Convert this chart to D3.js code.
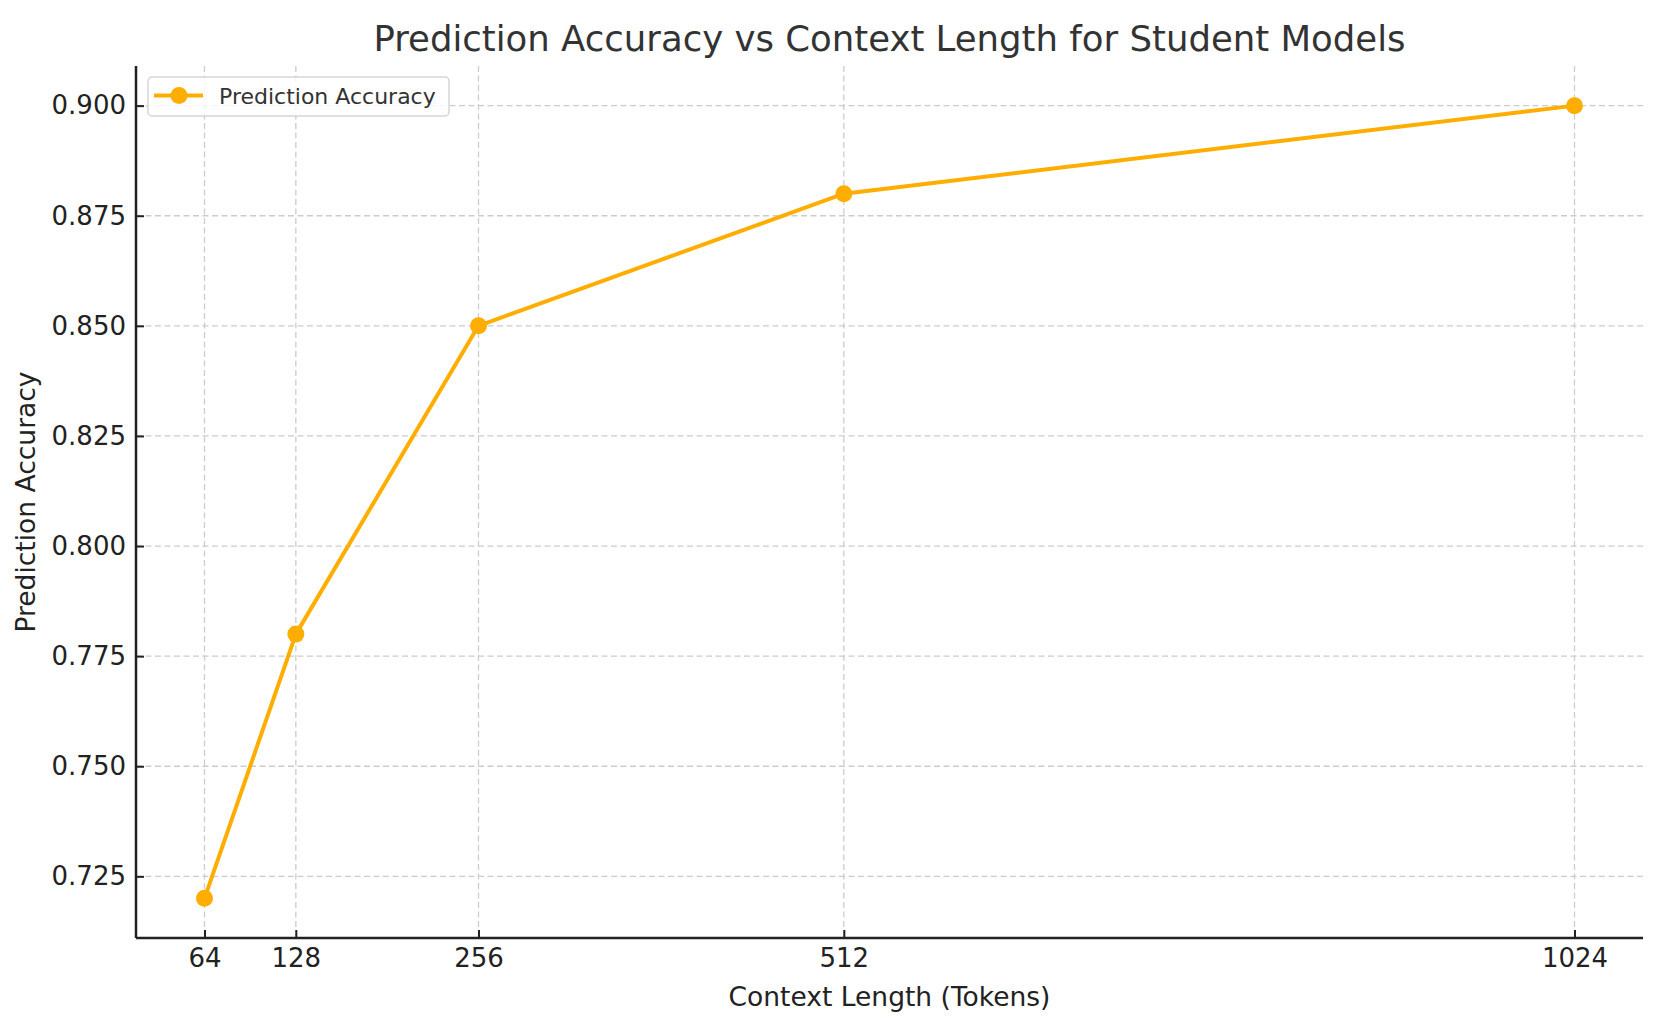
<!DOCTYPE html>
<html>
<head>
<meta charset="utf-8">
<script src="https://cdn.jsdelivr.net/npm/d3@7"></script>
<style>
  body { margin: 0; background: #fff; }
  svg { font-family: "DejaVu Sans", sans-serif; }
</style>
</head>
<body>
<div class="graph-container"></div>
<script>
// chart data
var contextLengths = [64, 128, 256, 512, 1024];
var accuracies = [0.72, 0.78, 0.85, 0.88, 0.90];
var yTicks = [0.725, 0.750, 0.775, 0.800, 0.825, 0.850, 0.875, 0.900];
var seriesName = 'Prediction Accuracy';

var svgWidth = 1670;
var svgHeight = 1021;
var plotLeft = 136, plotRight = 1643, plotTop = 66, plotBottom = 938;
var lineColor = '#ffae00';

var svg = d3.select('.graph-container').append('svg')
  .attr('width', svgWidth)
  .attr('height', svgHeight);

// scales with matplotlib-like 5% margins
var xScale = d3.scaleLinear()
  .domain([16, 1072])
  .range([plotLeft, plotRight]);

var yScale = d3.scaleLinear()
  .domain([0.711, 0.909])
  .range([plotBottom, plotTop]);

// grid lines
svg.append('g').selectAll('line')
  .data(contextLengths)
  .enter().append('line')
  .attr('x1', function(d) { return xScale(d); })
  .attr('x2', function(d) { return xScale(d); })
  .attr('y1', plotTop).attr('y2', plotBottom)
  .attr('stroke', '#cccccc').attr('stroke-width', 1.3)
  .attr('stroke-dasharray', '6,3.5');

svg.append('g').selectAll('line')
  .data(yTicks)
  .enter().append('line')
  .attr('x1', plotLeft).attr('x2', plotRight)
  .attr('y1', function(d) { return yScale(d); })
  .attr('y2', function(d) { return yScale(d); })
  .attr('stroke', '#cccccc').attr('stroke-width', 1.3)
  .attr('stroke-dasharray', '6,3.5');

// axes, ticks point inward
var xAxis = svg.append('g')
  .attr('transform', 'translate(0,' + plotBottom + ')')
  .call(d3.axisBottom(xScale).tickValues(contextLengths).tickSize(-8).tickPadding(11).tickFormat(d3.format('d')));

var yAxis = svg.append('g')
  .attr('transform', 'translate(' + plotLeft + ',0)')
  .call(d3.axisLeft(yScale).tickValues(yTicks).tickSize(-8).tickPadding(10).tickFormat(d3.format('.3f')));

[xAxis, yAxis].forEach(function(ax) {
  ax.select('.domain').attr('stroke', '#222').attr('stroke-width', 2.5);
  ax.selectAll('.tick line').attr('stroke', '#222').attr('stroke-width', 2);
  ax.selectAll('.tick text').attr('fill', '#222').style('font-size', '26px')
    .style('font-family', '"DejaVu Sans", sans-serif');
});
// spines without end ticks
xAxis.select('.domain').attr('d', 'M' + plotLeft + ',0H' + plotRight);
yAxis.select('.domain').attr('d', 'M0,' + plotTop + 'V' + plotBottom);

// line
var line = d3.line()
  .x(function(d, i) { return xScale(contextLengths[i]); })
  .y(function(d) { return yScale(d); });

svg.append('path')
  .datum(accuracies)
  .attr('d', line)
  .attr('fill', 'none')
  .attr('stroke', lineColor)
  .attr('stroke-width', 4)
  .attr('stroke-linejoin', 'round');

svg.selectAll('circle.pt')
  .data(accuracies)
  .enter().append('circle')
  .attr('class', 'pt')
  .attr('cx', function(d, i) { return xScale(contextLengths[i]); })
  .attr('cy', function(d) { return yScale(d); })
  .attr('r', 8.5)
  .attr('fill', lineColor);

// title
svg.append('text')
  .attr('x', (plotLeft + plotRight) / 2)
  .attr('y', 51)
  .style('text-anchor', 'middle')
  .style('font-size', '35.5px')
  .attr('fill', '#333')
  .text('Prediction Accuracy vs Context Length for Student Models');

// axis labels
svg.append('text')
  .attr('x', (plotLeft + plotRight) / 2)
  .attr('y', 1006)
  .style('text-anchor', 'middle')
  .style('font-size', '26.5px')
  .attr('fill', '#222')
  .text('Context Length (Tokens)');

svg.append('text')
  .attr('x', -(plotTop + plotBottom) / 2)
  .attr('y', 35)
  .style('text-anchor', 'middle')
  .style('font-size', '26.5px')
  .attr('fill', '#222')
  .attr('transform', 'rotate(-90)')
  .text('Prediction Accuracy');

// legend
var legend = svg.append('g');
legend.append('rect')
  .attr('x', 148).attr('y', 77)
  .attr('width', 301).attr('height', 39)
  .attr('rx', 4)
  .attr('fill', '#fff').attr('fill-opacity', 0.8)
  .attr('stroke', '#d6d6d6').attr('stroke-width', 1.5);
legend.append('line')
  .attr('x1', 154).attr('x2', 203)
  .attr('y1', 95.5).attr('y2', 95.5)
  .attr('stroke', lineColor).attr('stroke-width', 4);
legend.append('circle')
  .attr('cx', 179).attr('cy', 95.5).attr('r', 8.5)
  .attr('fill', lineColor);
legend.append('text')
  .attr('x', 219).attr('y', 103.5)
  .style('font-size', '22px')
  .attr('fill', '#333')
  .text(seriesName);
</script>
</body>
</html>
